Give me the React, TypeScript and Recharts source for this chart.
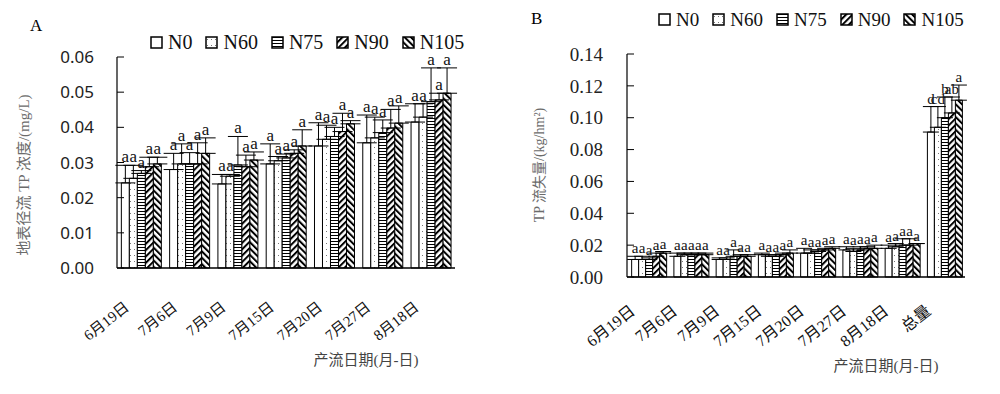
import React from 'react';
import { BarChart, Bar, XAxis, YAxis, ErrorBar, LabelList } from 'recharts';

// 处理名称
const seriesNames = ['N0', 'N60', 'N75', 'N90', 'N105'];

const datesA = ['6月19日', '7月6日', '7月9日', '7月15日', '7月20日', '7月27日', '8月18日'];
const datesB = ['6月19日', '7月6日', '7月9日', '7月15日', '7月20日', '7月27日', '8月18日', '总量'];

// A: 地表径流 TP 浓度 (mg/L)，均值与误差线顶端
const concN0 = [0.0242, 0.028, 0.0239, 0.0296, 0.0347, 0.0356, 0.0415];
const concN60 = [0.0255, 0.0296, 0.0261, 0.0305, 0.0366, 0.037, 0.0429];
const concN75 = [0.0269, 0.0296, 0.0293, 0.0313, 0.0374, 0.0385, 0.0473];
const concN90 = [0.0288, 0.0296, 0.0288, 0.0326, 0.0388, 0.0398, 0.0478];
const concN105 = [0.0296, 0.0326, 0.0307, 0.0347, 0.041, 0.0412, 0.0497];
const concTopN0 = [0.0292, 0.0326, 0.0266, 0.0353, 0.0413, 0.0435, 0.0467];
const concTopN60 = [0.0292, 0.0353, 0.0266, 0.0317, 0.0406, 0.0429, 0.0467];
const concTopN75 = [0.0277, 0.0328, 0.0374, 0.0324, 0.04, 0.0421, 0.0569];
const concTopN90 = [0.0315, 0.0356, 0.0321, 0.0336, 0.044, 0.0451, 0.0497];
const concTopN105 = [0.0315, 0.037, 0.033, 0.0393, 0.0419, 0.0461, 0.0569];
const concTicks = [0, 0.01, 0.02, 0.03, 0.04, 0.05, 0.06];

// B: TP 流失量 (kg/hm2)
const lossN0 = [0.011, 0.013, 0.011, 0.014, 0.015, 0.017, 0.018, 0.091];
const lossN60 = [0.011, 0.014, 0.011, 0.013, 0.015, 0.016, 0.019, 0.094];
const lossN75 = [0.011, 0.014, 0.013, 0.013, 0.016, 0.017, 0.02, 0.1];
const lossN90 = [0.013, 0.014, 0.013, 0.014, 0.017, 0.018, 0.02, 0.103];
const lossN105 = [0.015, 0.014, 0.013, 0.015, 0.018, 0.018, 0.021, 0.111];
const lossTopN0 = [0.013, 0.015, 0.012, 0.015, 0.018, 0.019, 0.02, 0.107];
const lossTopN60 = [0.013, 0.015, 0.012, 0.014, 0.017, 0.018, 0.021, 0.107];
const lossTopN75 = [0.012, 0.015, 0.017, 0.014, 0.017, 0.019, 0.024, 0.113];
const lossTopN90 = [0.015, 0.015, 0.014, 0.015, 0.018, 0.019, 0.024, 0.113];
const lossTopN105 = [0.016, 0.015, 0.014, 0.017, 0.019, 0.02, 0.021, 0.1205];
const lossTicks = [0, 0.02, 0.04, 0.06, 0.08, 0.1, 0.12, 0.14];

// 显著性字母
const lettersA = ['a', 'a', 'a', 'a', 'a', 'a', 'a'];
const lettersBN0 = ['a', 'a', 'a', 'a', 'a', 'a', 'a', 'd'];
const lettersBN60 = ['a', 'a', 'a', 'a', 'a', 'a', 'a', 'cd'];
const lettersBN75 = ['a', 'a', 'a', 'a', 'a', 'a', 'a', 'b'];
const lettersBN90 = ['a', 'a', 'a', 'a', 'a', 'a', 'a', 'ab'];
const lettersBN105 = ['a', 'a', 'a', 'a', 'a', 'a', 'a', 'a'];

const SERIF = '"Liberation Serif", "Noto Sans CJK SC", serif';
const patternIds = ['pN0', 'pN60', 'pN75', 'pN90', 'pN105'];

const concVals = [concN0, concN60, concN75, concN90, concN105];
const concTops = [concTopN0, concTopN60, concTopN75, concTopN90, concTopN105];
const lossVals = [lossN0, lossN60, lossN75, lossN90, lossN105];
const lossTops = [lossTopN0, lossTopN60, lossTopN75, lossTopN90, lossTopN105];
const lossLetters = [lettersBN0, lettersBN60, lettersBN75, lettersBN90, lettersBN105];

function buildTable(dates: string[], vals: number[][], tops: number[][]) {
  return dates.map((d, i) => {
    const row: any = { date: d };
    seriesNames.forEach((s, k) => {
      row[s] = vals[k][i];
      row[s + '_err'] = [0, +(tops[k][i] - vals[k][i]).toFixed(5)];
    });
    return row;
  });
}

const tableA = buildTable(datesA, concVals, concTops);
const tableB = buildTable(datesB, lossVals, lossTops);

// 误差线上方的字母
const letterLabel = (vals: number[], tops: number[], letters: string[], fs: number) => (p: any) => {
  const x = Number(p.x), y = Number(p.y), w = Number(p.width), h = Number(p.height);
  const i = p.index;
  const v = vals[i];
  const ex = ((tops[i] - v) * h) / v;
  return (
    <text x={x + w / 2} y={y - ex - 3} textAnchor="middle" fontSize={fs} fontFamily={SERIF} fill="#111">
      {letters[i]}
    </text>
  );
};

const DateTick = (fs: number, dx: number, dy: number) => (p: any) => (
  <g transform={`translate(${p.x + dx},${p.y + dy})`}>
    <text x={0} y={0} textAnchor="end" transform="rotate(-38)" fontSize={fs} fontFamily={SERIF} fill="#111">
      {p.payload.value}
    </text>
  </g>
);

function Patterns() {
  return (
    <svg width={0} height={0} style={{ position: 'absolute' }}>
      <defs>
        <pattern id="pN0" width={4} height={4} patternUnits="userSpaceOnUse">
          <rect width={4} height={4} fill="#fff" />
        </pattern>
        <pattern id="pN60" width={4} height={6} patternUnits="userSpaceOnUse">
          <rect width={4} height={6} fill="#fff" />
          <rect x={2} y={3} width={1} height={1} fill="#777" />
        </pattern>
        <pattern id="pN75" width={4} height={3} patternUnits="userSpaceOnUse">
          <rect width={4} height={3} fill="#fff" />
          <line x1={0} y1={1.5} x2={4} y2={1.5} stroke="#000" strokeWidth={1} />
        </pattern>
        <pattern id="pN90" width={4.5} height={4.5} patternUnits="userSpaceOnUse" patternTransform="rotate(45)">
          <rect width={4.5} height={4.5} fill="#fff" />
          <line x1={1} y1={0} x2={1} y2={4.5} stroke="#000" strokeWidth={2} />
        </pattern>
        <pattern id="pN105" width={4.5} height={4.5} patternUnits="userSpaceOnUse" patternTransform="rotate(-45)">
          <rect width={4.5} height={4.5} fill="#fff" />
          <line x1={1} y1={0} x2={1} y2={4.5} stroke="#000" strokeWidth={2} />
        </pattern>
      </defs>
    </svg>
  );
}

function LegendRow({ left, top, fs, box }: { left: number; top: number; fs: number; box: number }) {
  return (
    <div style={{ position: 'absolute', left, top, display: 'flex', gap: 13, fontFamily: SERIF, fontSize: fs, color: '#111', lineHeight: 1 }}>
      {seriesNames.map((s, k) => (
        <div key={s} style={{ display: 'flex', alignItems: 'center', gap: 5 }}>
          <svg width={box + 2} height={box + 2}>
            <rect x={1} y={1} width={box} height={box} fill={`url(#${patternIds[k]})`} stroke="#000" strokeWidth={1.5} />
          </svg>
          <span>{s}</span>
        </div>
      ))}
    </div>
  );
}

export default function App() {
  return (
    <div style={{ position: 'absolute', left: 0, top: 0, width: 1000, height: 394, background: '#fff', overflow: 'hidden' }}>
      <Patterns />
      <div style={{ position: 'absolute', left: 30, top: 16, fontFamily: SERIF, fontSize: 17 }}>A</div>
      <div style={{ position: 'absolute', left: 531, top: 9, fontFamily: SERIF, fontSize: 17 }}>B</div>
      <LegendRow left={150} top={32} fs={20} box={11} />
      <LegendRow left={658} top={10} fs={19} box={11} />

      <div style={{ position: 'absolute', left: 0, top: 0 }}>
        <BarChart width={470} height={394} data={tableA} margin={{ top: 57, right: 15, bottom: 66, left: 0 }} barCategoryGap="9%" barGap={0}>
          <XAxis
            dataKey="date"
            height={60}
            interval={0}
            axisLine={{ stroke: '#000', strokeWidth: 1.5 }}
            tickLine={false}
            tickSize={0}
            tick={DateTick(15, -11, 39)}
            label={{
              content: (p: any) => (
                <text x={p.viewBox.x + 249} y={p.viewBox.y + 97} textAnchor="middle" fontSize={15} fontFamily={SERIF} fill="#444">
                  产流日期(月-日)
                </text>
              ),
            }}
          />
          <YAxis
            width={117}
            domain={[0, 0.06]}
            ticks={concTicks}
            interval={0}
            tickFormatter={(v: number) => v.toFixed(2)}
            axisLine={{ stroke: '#000', strokeWidth: 1.2 }}
            tickLine={{ stroke: '#000' }}
            tickSize={-7}
            tickMargin={30}
            tick={{ fill: '#222', fontSize: 17, fontFamily: '"Noto Sans", sans-serif' }}
            label={{
              content: (p: any) => (
                <text
                  transform={`translate(${p.viewBox.x + 29},${p.viewBox.y + 118}) rotate(-90)`}
                  textAnchor="middle"
                  fontSize={15}
                  fontFamily={SERIF}
                  fill="#6b6b6b"
                >
                  地表径流 TP 浓度/(mg/L)
                </text>
              ),
            }}
          />
          {seriesNames.map((s, k) => (
            <Bar key={s} dataKey={s} fill={`url(#${patternIds[k]})`} stroke="#000" strokeWidth={1} isAnimationActive={false}>
              <ErrorBar dataKey={s + '_err'} width={10} stroke="#000" strokeWidth={1} direction="y" isAnimationActive={false} />
              <LabelList dataKey={s} content={letterLabel(concVals[k], concTops[k], lettersA, 17)} />
            </Bar>
          ))}
        </BarChart>
      </div>

      <div style={{ position: 'absolute', left: 500, top: 0 }}>
        <BarChart width={500} height={394} data={tableB} margin={{ top: 54, right: 35, bottom: 57, left: 0 }} barCategoryGap="11%" barGap={0}>
          <XAxis
            dataKey="date"
            height={60}
            interval={0}
            axisLine={{ stroke: '#000', strokeWidth: 1.5 }}
            tickLine={false}
            tickSize={0}
            tick={DateTick(16, -12, 34)}
            label={{
              content: (p: any) => (
                <text x={p.viewBox.x + 259} y={p.viewBox.y + 94} textAnchor="middle" fontSize={15} fontFamily={SERIF} fill="#444">
                  产流日期(月-日)
                </text>
              ),
            }}
          />
          <YAxis
            width={127}
            domain={[0, 0.14]}
            ticks={lossTicks}
            interval={0}
            tickFormatter={(v: number) => v.toFixed(2)}
            axisLine={{ stroke: '#000', strokeWidth: 1.2 }}
            tickLine={{ stroke: '#000' }}
            tickSize={-7}
            tickMargin={31}
            tick={{ fill: '#222', fontSize: 19, fontFamily: SERIF }}
            label={{
              content: (p: any) => (
                <text
                  transform={`translate(${p.viewBox.x + 44},${p.viewBox.y + 111}) rotate(-90)`}
                  textAnchor="middle"
                  fontSize={14}
                  fontFamily={SERIF}
                  fill="#6b6b6b"
                >
                  TP 流失量/(kg/hm²)
                </text>
              ),
            }}
          />
          {seriesNames.map((s, k) => (
            <Bar key={s} dataKey={s} fill={`url(#${patternIds[k]})`} stroke="#000" strokeWidth={1} isAnimationActive={false}>
              <ErrorBar dataKey={s + '_err'} width={8} stroke="#000" strokeWidth={1} direction="y" isAnimationActive={false} />
              <LabelList dataKey={s} content={letterLabel(lossVals[k], lossTops[k], lossLetters[k], 15)} />
            </Bar>
          ))}
        </BarChart>
      </div>
    </div>
  );
}
